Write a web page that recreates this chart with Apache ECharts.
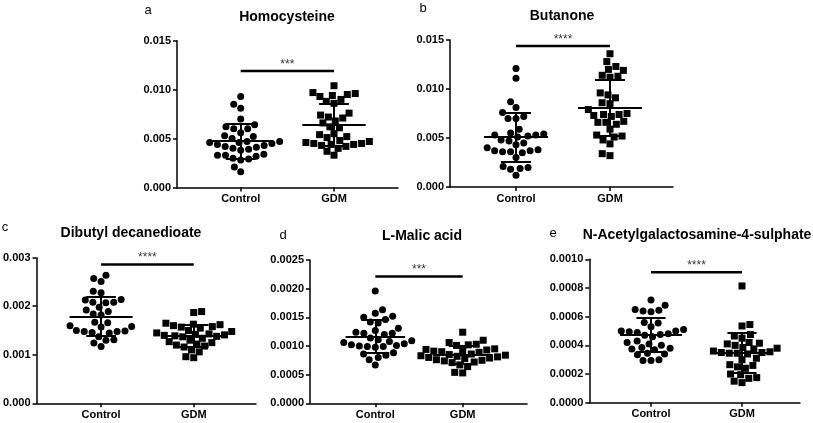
<!DOCTYPE html>
<html>
<head>
<meta charset="utf-8">
<script src="https://cdn.jsdelivr.net/npm/echarts@6/dist/echarts.min.js"></script>
<style>
  html, body { margin: 0; padding: 0; background: #fff; }
  #chart { width: 813px; height: 423px; }
</style>
</head>
<body>
<div id="chart"></div>
<script>
// groups and panel texts
const groups = ['Control', 'GDM'];
const letters = ['a', 'b', 'c', 'd', 'e'];
const titles = ['Homocysteine', 'Butanone', 'Dibutyl decanedioate', 'L-Malic acid', 'N-Acetylgalactosamine-4-sulphate'];

// y axis ranges / ticks
const yMax = [0.015, 0.015, 0.003, 0.0025, 0.001];
const yStep = [0.005, 0.005, 0.001, 0.0005, 0.0002];
const yDigits = [3, 3, 3, 4, 4];

// significance
const stars = ['***', '****', '****', '***', '****'];
const sigLevel = [0.0119, 0.0144, 0.00286, 0.00221, 0.000909];

// values
const homCtrl = [0.0093, 0.0085, 0.0081, 0.0070, 0.0064, 0.0062, 0.0060, 0.0060, 0.0056, 0.0053, 0.0052, 0.0050, 0.0047, 0.0047, 0.0046, 0.0046, 0.0045, 0.0044, 0.0043, 0.0042, 0.0041, 0.0040, 0.0039, 0.0038, 0.0034, 0.0033, 0.0033, 0.0032, 0.0030, 0.0029, 0.0028, 0.0021, 0.0016];
const homGdm = [0.0104, 0.0097, 0.0096, 0.0095, 0.0094, 0.0093, 0.0090, 0.0088, 0.0086, 0.0076, 0.0074, 0.0072, 0.0071, 0.0068, 0.0066, 0.0062, 0.0061, 0.0055, 0.0054, 0.0052, 0.0051, 0.0048, 0.0047, 0.0046, 0.0045, 0.0045, 0.0044, 0.0044, 0.0043, 0.0042, 0.0040, 0.0037, 0.0033];
const butCtrl = [0.0121, 0.0111, 0.0087, 0.0081, 0.0076, 0.0072, 0.0070, 0.0070, 0.0059, 0.0055, 0.0054, 0.0053, 0.0053, 0.0052, 0.0051, 0.0048, 0.0047, 0.0045, 0.0043, 0.0040, 0.0038, 0.0037, 0.0037, 0.0036, 0.0036, 0.0035, 0.0030, 0.0021, 0.0020, 0.0019, 0.0018, 0.0012];
const butGdm = [0.0136, 0.0128, 0.0123, 0.0120, 0.0119, 0.0114, 0.0113, 0.0112, 0.0096, 0.0094, 0.0091, 0.0086, 0.0085, 0.0079, 0.0075, 0.0074, 0.0074, 0.0073, 0.0072, 0.0067, 0.0066, 0.0066, 0.0064, 0.0059, 0.0053, 0.0052, 0.0051, 0.0048, 0.0044, 0.0034, 0.0032];
const dibCtrl = [0.00264, 0.00257, 0.00251, 0.00231, 0.00228, 0.00214, 0.00213, 0.00208, 0.00208, 0.00207, 0.00198, 0.00192, 0.00189, 0.00184, 0.00182, 0.00167, 0.00166, 0.00160, 0.00158, 0.00157, 0.00150, 0.00149, 0.00148, 0.00148, 0.00146, 0.00145, 0.00137, 0.00131, 0.00130, 0.00124, 0.00117];
const dibGdm = [0.00189, 0.00187, 0.00165, 0.00163, 0.00162, 0.00160, 0.00158, 0.00157, 0.00155, 0.00150, 0.00148, 0.00145, 0.00143, 0.00142, 0.00141, 0.00140, 0.00139, 0.00138, 0.00137, 0.00134, 0.00130, 0.00127, 0.00125, 0.00122, 0.00120, 0.00118, 0.00116, 0.00110, 0.00106, 0.00096, 0.00094];
const malCtrl = [0.00196, 0.00163, 0.00157, 0.00152, 0.00150, 0.00146, 0.00142, 0.00140, 0.00131, 0.00127, 0.00124, 0.00122, 0.00122, 0.00120, 0.00114, 0.00111, 0.00109, 0.00108, 0.00106, 0.00104, 0.00102, 0.00101, 0.00100, 0.00099, 0.00099, 0.00098, 0.00088, 0.00086, 0.00084, 0.00080, 0.00076, 0.00067];
const malGdm = [0.00124, 0.00110, 0.00106, 0.00103, 0.00102, 0.00101, 0.00095, 0.00094, 0.00093, 0.00092, 0.00091, 0.00090, 0.00089, 0.00086, 0.00085, 0.00084, 0.00083, 0.00082, 0.00081, 0.00080, 0.00079, 0.00078, 0.00076, 0.00075, 0.00074, 0.00072, 0.00071, 0.00067, 0.00064, 0.00054, 0.00053];
const nagCtrl = [0.000716, 0.000680, 0.000650, 0.000645, 0.000640, 0.000635, 0.000560, 0.000555, 0.000530, 0.000510, 0.000500, 0.000500, 0.000495, 0.000490, 0.000480, 0.000475, 0.000470, 0.000460, 0.000430, 0.000420, 0.000410, 0.000400, 0.000385, 0.000380, 0.000375, 0.000370, 0.000345, 0.000340, 0.000335, 0.000300, 0.000295, 0.000295];
const nagGdm = [0.000814, 0.000545, 0.000535, 0.000475, 0.000465, 0.000450, 0.000420, 0.000415, 0.000410, 0.000400, 0.000385, 0.000380, 0.000375, 0.000360, 0.000355, 0.000350, 0.000350, 0.000345, 0.000345, 0.000340, 0.000310, 0.000300, 0.000265, 0.000260, 0.000250, 0.000240, 0.000200, 0.000195, 0.000175, 0.000170, 0.000150, 0.000140];

const ctrlData = [homCtrl, butCtrl, dibCtrl, malCtrl, nagCtrl];
const gdmData = [homGdm, butGdm, dibGdm, malGdm, nagGdm];

// pixel layout of each panel: y axis x, control x, GDM x, axis end, top, zero line
const layout = [
    {x0: 177, c: 240.7, g: 334, x1: 398, y0: 40.7, y1: 187.5, tx: 287, ty: 17, lx: 148, ly: 10},
    {x0: 450, c: 516, g: 610, x1: 673, y0: 40, y1: 187, tx: 562, ty: 16, lx: 423, ly: 8},
    {x0: 35, c: 100, g: 193.3, x1: 256, y0: 257.7, y1: 403.3, tx: 131, ty: 233, lx: 5, ly: 227},
    {x0: 310, c: 375.3, g: 462.7, x1: 527, y0: 260, y1: 403.3, tx: 422, ty: 236, lx: 283, ly: 235},
    {x0: 589.3, c: 651, g: 742, x1: 800, y0: 259.3, y1: 402.7, tx: 697, ty: 235, lx: 553, ly: 233}
];

const FONT = 'Liberation Sans, Arial, sans-serif';

function meanSd(arr) {
    const m = arr.reduce((s, v) => s + v, 0) / arr.length;
    const sd = Math.sqrt(arr.reduce((s, v) => s + (v - m) * (v - m), 0) / (arr.length - 1));
    return [m, sd];
}

// beeswarm: each point goes to the nearest free spot beside the group centre
function swarm(vals, center, pxY, pxX) {
    const d = 8;
    const sorted = vals.slice().sort((a, b) => a - b);
    const placed = [];
    const out = [];
    sorted.forEach((v, n) => {
        const y = v * pxY;
        const forb = [];
        placed.forEach(p => {
            const dy = Math.abs(p[1] - y);
            if (dy < d) {
                const dx = Math.sqrt(d * d - dy * dy);
                forb.push([p[0] - dx, p[0] + dx]);
            }
        });
        const cands = [0];
        forb.forEach(f => cands.push(f[0], f[1]));
        const sgn = n % 2 ? 1 : -1;
        cands.sort((a, b) => (Math.abs(a) - Math.abs(b)) || (sgn * (a - b)));
        let x = 0;
        for (const cx of cands) {
            if (forb.every(f => cx <= f[0] + 1e-6 || cx >= f[1] - 1e-6)) { x = cx; break; }
        }
        placed.push([x, y]);
        out.push([center + x / pxX, v]);
    });
    return out;
}

function errLines(c, m, s) {
    return [
        [{coord: [c - 0.34, m]}, {coord: [c + 0.34, m]}],
        [{coord: [c - 0.16, m + s]}, {coord: [c + 0.16, m + s]}],
        [{coord: [c - 0.16, m - s]}, {coord: [c + 0.16, m - s]}],
        [{coord: [c, m - s]}, {coord: [c, m + s]}]
    ];
}

let chart = echarts.init(document.getElementById('chart'));

let grid = [], xAxis = [], yAxis = [], series = [], graphic = [];

layout.forEach((L, i) => {
    const pxX = L.g - L.c;
    const pxY = (L.y1 - L.y0) / yMax[i];
    const xmin = 1 - (L.c - L.x0) / pxX;
    const xmax = 2 + (L.x1 - L.g) / pxX;

    grid.push({left: L.x0, top: L.y0, width: L.x1 - L.x0, height: L.y1 - L.y0});

    xAxis.push({
        type: 'value', gridIndex: i, min: xmin, max: xmax,
        axisLine: {onZero: false, lineStyle: {color: '#000', width: 1.5}},
        axisTick: {customValues: [1, 2], length: 4, lineStyle: {color: '#000', width: 1.5}},
        axisLabel: {
            customValues: [1, 2], formatter: v => groups[Math.round(v) - 1],
            color: '#000', fontWeight: 'bold', fontSize: 11, fontFamily: FONT, margin: 6
        },
        splitLine: {show: false}
    });

    yAxis.push({
        type: 'value', gridIndex: i, min: 0, max: yMax[i], interval: yStep[i],
        axisLine: {show: true, onZero: false, lineStyle: {color: '#000', width: 1.5}},
        axisTick: {show: true, length: 4, lineStyle: {color: '#000', width: 1.5}},
        axisLabel: {
            formatter: v => v.toFixed(yDigits[i]),
            color: '#000', fontWeight: 'bold', fontSize: 11, fontFamily: FONT, margin: 6
        },
        splitLine: {show: false}
    });

    const [mc, sc] = meanSd(ctrlData[i]);
    const [mg, sg] = meanSd(gdmData[i]);

    series.push({
        type: 'scatter', xAxisIndex: i, yAxisIndex: i,
        symbol: 'circle', symbolSize: 7, itemStyle: {color: '#000', opacity: 1},
        data: swarm(ctrlData[i], 1, pxY, pxX),
        markLine: {
            silent: true, symbol: 'none', animation: false, label: {show: false},
            lineStyle: {color: '#000', width: 2, type: 'solid'},
            data: errLines(1, mc, sc)
        }
    });
    series.push({
        type: 'scatter', xAxisIndex: i, yAxisIndex: i,
        symbol: 'rect', symbolSize: 7, itemStyle: {color: '#000', opacity: 1},
        data: swarm(gdmData[i], 2, pxY, pxX),
        markLine: {
            silent: true, symbol: 'none', animation: false, label: {show: false},
            lineStyle: {color: '#000', width: 2, type: 'solid'},
            data: errLines(2, mg, sg)
        }
    });

    // significance bar
    series.push({
        type: 'line', xAxisIndex: i, yAxisIndex: i, showSymbol: false, silent: true,
        lineStyle: {color: '#000', width: 2.5},
        data: [[1, sigLevel[i]], [2, sigLevel[i]]]
    });
    series.push({
        type: 'scatter', xAxisIndex: i, yAxisIndex: i, symbolSize: 1, silent: true,
        itemStyle: {color: 'rgba(0,0,0,0)'},
        label: {show: true, position: 'top', distance: 0, formatter: stars[i],
            color: '#000', fontSize: 12, fontFamily: FONT},
        data: [[1.5, sigLevel[i]]]
    });

    graphic.push({
        type: 'text', x: L.tx, y: L.ty,
        style: {text: titles[i], font: 'bold 14px ' + FONT, fill: '#000', textAlign: 'center', textVerticalAlign: 'middle'}
    });
    graphic.push({
        type: 'text', x: L.lx, y: L.ly,
        style: {text: letters[i], font: '13px ' + FONT, fill: '#000', textAlign: 'center', textVerticalAlign: 'middle'}
    });
});

chart.setOption({
    animation: false,
    backgroundColor: '#fff',
    grid: grid,
    xAxis: xAxis,
    yAxis: yAxis,
    series: series,
    graphic: graphic
});
</script>
</body>
</html>
